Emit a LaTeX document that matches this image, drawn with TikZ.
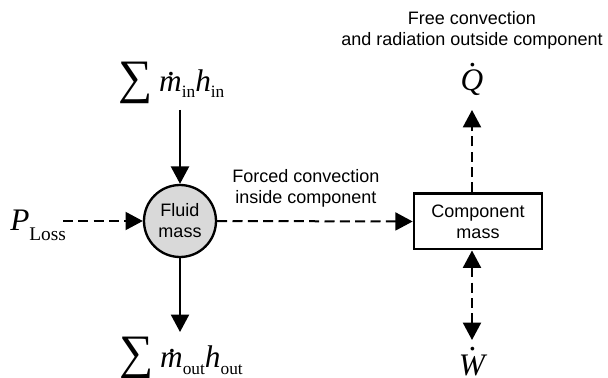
\documentclass[tikz,border=0pt]{standalone}
\usepackage{fontspec}
\setmainfont{Liberation Sans}
\newfontfamily\mathserif{Liberation Serif}
\usetikzlibrary{arrows.meta}

\definecolor{fluidfill}{RGB}{217,217,217}

% letter with a dot over it: #1 letter, #2 raise of the dot, #3 shift of the dot
\newcommand\dotover[3]{\ooalign{#1\cr\hidewidth\kern#3\raisebox{#2}{.}\hidewidth\cr}}
% upright subscript lowered by #2
\newcommand\lowsub[2]{\raisebox{-#2}{\upshape\fontsize{13pt}{13pt}\selectfont #1}}
\newcommand\mathtext{\mathserif\itshape\fontsize{23.5pt}{23.5pt}\selectfont}
% large summation sign lowered by #1
\newcommand\bigsum[1]{\raisebox{-#1}{\upshape\fontsize{36pt}{36pt}\selectfont ∑}}

\tikzset{
  lbl/.style={font=\fontsize{13.5pt}{15.75pt}\selectfont, align=center, inner sep=0pt},
  fluidnode/.style={circle, draw, line width=1.75pt, fill=fluidfill,
    minimum size=54pt, inner sep=0pt, lbl},
  compnode/.style={rectangle, draw, line width=2pt, fill=white,
    minimum width=96pt, minimum height=41.5pt, inner sep=0pt, lbl},
  mathlbl/.style={inner sep=0pt, font=\mathtext},
  solidflow/.style={line width=1.5pt, -{Triangle[length=13pt,width=13.5pt]}},
  dashflow/.style={line width=1.5pt, dash pattern=on 7.5pt off 4pt,
    -{Triangle[length=13pt,width=13.5pt]}},
}

\begin{document}
\begin{tikzpicture}[x=0.75pt, y=-0.75pt]
  \useasboundingbox (0,0) rectangle (608,378);

  % the two masses
  \node[fluidnode] (fluid) at (180,221) {Fluid\\mass};
  \node[compnode] (comp) at (478,221.5) {Component\\mass};

  % heat transfer descriptions
  \node[lbl] (forced) at (306,188) {Forced convection\\inside component};
  \node[lbl] (free) at (472,30) {Free convection\\and radiation outside component};

  % quantities
  \node[mathlbl, anchor=base west] (sumin) at (118,92)
    {\bigsum{1pt}\hspace{5pt}\dotover{m}{12pt}{2pt}\lowsub{in}{4pt}h\lowsub{in}{4pt}};
  \node[mathlbl, anchor=base west] (sumout) at (119,368)
    {\bigsum{0.5pt}\hspace{5pt}\dotover{m}{12pt}{2pt}\lowsub{out}{5pt}h\lowsub{out}{5pt}};
  \node[mathlbl, anchor=base west] (ploss) at (10,230)
    {P\raisebox{-7.5pt}{\upshape\fontsize{14.5pt}{14.5pt}\selectfont Loss}};
  \node[mathlbl, anchor=base] (qdot) at (472,91) {\dotover{Q}{18.5pt}{2pt}};
  \node[mathlbl, anchor=base] (wdot) at (472,375.5) {\dotover{W}{18.5pt}{2pt}};

  % free ends of the connectors next to the quantities
  \coordinate (inEnd) at (180,110);
  \coordinate (outEnd) at (180,332);
  \coordinate (lossEnd) at (63,221);
  \coordinate (qEnd) at (472,110);
  \coordinate (wEnd) at (472,340);

  % flows
  \draw[solidflow] (inEnd) -- (fluid.north);
  \draw[solidflow] (fluid.south) -- (outEnd);
  \draw[dashflow] (lossEnd) -- (fluid.west);
  \draw[dashflow] (fluid.east) -- (comp.west);
  \draw[dashflow] (comp.north -| qEnd) -- (qEnd);
  \draw[dashflow, {Triangle[length=13pt,width=13.5pt]}-{Triangle[length=13pt,width=13.5pt]}]
    (comp.south -| wEnd) -- (wEnd);
\end{tikzpicture}
\end{document}
